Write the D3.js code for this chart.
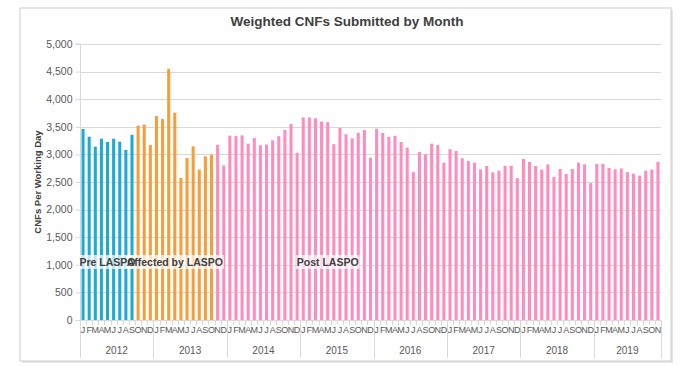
<!DOCTYPE html>
<html>
<head>
<meta charset="utf-8">
<script src="https://cdn.jsdelivr.net/npm/d3@7"></script>
<style>
  html, body { margin: 0; padding: 0; background: #fff; }
  svg { display: block; font-family: "Liberation Sans", Arial, sans-serif; }
</style>
</head>
<body>
<svg id="chart" width="700" height="366"></svg>
<script>
// ---- Data ----
const monthLetters = ["J","F","M","A","M","J","J","A","S","O","N","D"];
const years = ["2012","2013","2014","2015","2016","2017","2018","2019"];
const yTicks = [0, 500, 1000, 1500, 2000, 2500, 3000, 3500, 4000, 4500, 5000];

// Jan 2012 - Sep 2012
const preLASPO = [3460, 3320, 3140, 3285, 3225, 3285, 3230, 3080, 3355];
// Oct 2012 - Oct 2013
const affectedLASPO = [3520, 3540, 3170, 3695, 3640, 4550, 3755, 2575, 2935, 3145, 2725, 2965, 2995];
// Nov 2013 - Nov 2019
const postLASPO = [3175, 2800,
  3340, 3335, 3345, 3195, 3295, 3165, 3180, 3255, 3330, 3445, 3550, 3030,
  3670, 3670, 3655, 3595, 3585, 3185, 3480, 3365, 3290, 3390, 3440, 2940,
  3465, 3390, 3315, 3335, 3225, 3120, 2680, 3045, 3000, 3195, 3170, 2850,
  3095, 3060, 2930, 2880, 2850, 2730, 2790, 2675, 2705, 2795, 2795, 2570,
  2920, 2865, 2790, 2725, 2820, 2590, 2735, 2645, 2735, 2850, 2820, 2480,
  2830, 2830, 2755, 2730, 2745, 2680, 2650, 2615, 2705, 2725, 2865];

const phases = [
  { name: "Pre LASPO", values: preLASPO, color: "#1DAAD6", labelAt: 4 },
  { name: "Affected by LASPO", values: affectedLASPO, color: "#F89D3A", labelAt: 15 },
  { name: "Post LASPO", values: postLASPO, color: "#FF8CBF", labelAt: 40 }
];

// Build flat list
const bars = [];
phases.forEach(p => p.values.forEach(v => {
  const i = bars.length;
  bars.push({ i, value: v, color: p.color, month: monthLetters[i % 12], year: years[Math.floor(i / 12)] });
}));

// ---- Layout ----
const svg = d3.select("#chart");
const plot = { left: 80, right: 661, top: 44, bottom: 320 };

// chart frame with subtle shadow
svg.append("rect").attr("x", 22).attr("y", 10).attr("width", 651).attr("height", 353)
  .attr("fill", "#e6e6e6");
svg.append("rect").attr("x", 20).attr("y", 8).attr("width", 651).attr("height", 353)
  .attr("fill", "#fff").attr("stroke", "#d4d4d4").attr("stroke-width", 1.2);

const x = d3.scaleBand().domain(bars.map(d => d.i)).range([plot.left, plot.right]).paddingInner(0.5).paddingOuter(0.25);
const y = d3.scaleLinear().domain([0, 5000]).range([plot.bottom, plot.top]);

// gridlines
svg.append("g").selectAll("line").data(yTicks.filter(t => t > 0)).join("line")
  .attr("x1", plot.left).attr("x2", plot.right)
  .attr("y1", d => Math.round(y(d)) + 0.5).attr("y2", d => Math.round(y(d)) + 0.5)
  .attr("stroke", "#d9d9d9").attr("stroke-width", 1);

// y axis
const yAxis = d3.axisLeft(y).tickValues(yTicks).tickFormat(d3.format(",")).tickSize(5).tickPadding(3);
const yg = svg.append("g").attr("transform", `translate(${plot.left + 0.5},0)`).call(yAxis);
yg.select(".domain").attr("stroke", "#d9d9d9").attr("d", `M-5,${plot.top}H0V${plot.bottom}`);
yg.selectAll(".tick line").attr("stroke", "#d9d9d9");
yg.selectAll(".tick text").attr("fill", "#595959").attr("font-size", 10.5)
  .attr("font-family", "Liberation Sans, Arial, sans-serif");

// y title
svg.append("text")
  .attr("transform", `translate(41,${(plot.top + plot.bottom) / 2}) rotate(-90)`)
  .attr("text-anchor", "middle").attr("font-size", 9.5).attr("font-weight", "bold")
  .attr("fill", "#404040").text("CNFs Per Working Day");

// title
svg.append("text").attr("x", 347).attr("y", 26).attr("text-anchor", "middle")
  .attr("font-size", 13.5).attr("font-weight", "bold").attr("fill", "#404040")
  .text("Weighted CNFs Submitted by Month");

// bars
svg.append("g").selectAll("rect").data(bars).join("rect")
  .attr("x", d => x(d.i)).attr("width", x.bandwidth())
  .attr("y", d => y(d.value)).attr("height", d => y(0) - y(d.value))
  .attr("fill", d => d.color);

// x axis line
svg.append("line").attr("x1", plot.left).attr("x2", plot.right)
  .attr("y1", plot.bottom + 0.5).attr("y2", plot.bottom + 0.5)
  .attr("stroke", "#d9d9d9");

// month ticks & letters
const step = x.step();
const xStart = plot.left;
const boundaries = d3.range(bars.length + 1);
svg.append("g").selectAll("line").data(boundaries).join("line")
  .attr("x1", d => Math.round(xStart + d * step) + 0.5).attr("x2", d => Math.round(xStart + d * step) + 0.5)
  .attr("y1", plot.bottom).attr("y2", d => (d % 12 === 0 || d === bars.length) ? 358 : plot.bottom + 5)
  .attr("stroke", "#d9d9d9");

svg.append("g").selectAll("text").data(bars).join("text")
  .attr("x", d => x(d.i) + x.bandwidth() / 2).attr("y", 333)
  .attr("text-anchor", "middle").attr("font-size", 9).attr("fill", "#595959")
  .text(d => d.month);

// year labels
svg.append("g").selectAll("text").data(years).join("text")
  .attr("x", (d, k) => {
    const first = k * 12, last = Math.min(bars.length, (k + 1) * 12);
    return xStart + (first + last) / 2 * step;
  })
  .attr("y", 354).attr("text-anchor", "middle").attr("font-size", 10).attr("fill", "#595959")
  .text(d => d);

// phase labels
let offset = 0;
phases.forEach(p => { p.start = offset; offset += p.values.length; });
const labelG = svg.append("g");
phases.forEach(p => {
  const cx = x(p.labelAt) + x.bandwidth() / 2;
  const t = labelG.append("text").attr("x", cx).attr("y", 266)
    .attr("text-anchor", "middle").attr("font-size", 10.5).attr("font-weight", "bold")
    .attr("fill", "#404040").text(p.name);
  const bb = t.node().getBBox();
  labelG.insert("rect", "text").attr("x", bb.x - 1).attr("y", bb.y - 1)
    .attr("width", bb.width + 2).attr("height", bb.height + 2)
    .attr("fill", "#fff").attr("fill-opacity", 0.7);
});
// Bring texts on top of all background rects
labelG.selectAll("text").raise();
</script>
</body>
</html>
